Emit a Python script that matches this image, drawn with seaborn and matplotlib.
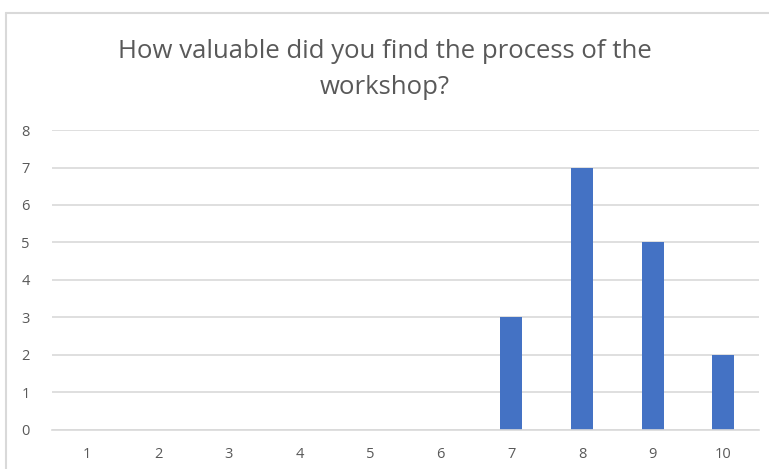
import matplotlib
matplotlib.use("Agg")
import matplotlib.pyplot as plt
import seaborn as sns
import pandas as pd
from matplotlib.lines import Line2D

# Datos del gráfico
ratings = ["1", "2", "3", "4", "5", "6", "7", "8", "9", "10"]
counts = [0, 0, 0, 0, 0, 0, 3, 7, 5, 2]
y_ticks = [0, 1, 2, 3, 4, 5, 6, 7, 8]
title = "How valuable did you find the process of the\nworkshop?"

df = pd.DataFrame({"rating": ratings, "count": counts})

sns.set_style("white")
plt.rcParams["font.family"] = ["Open Sans", "DejaVu Sans"]

fig = plt.figure(figsize=(7.69, 4.69), dpi=100)
ax = fig.add_axes([0.0676, 0.0832, 0.919, 0.6396])

sns.barplot(data=df, x="rating", y="count", color="#4472C4",
            width=0.31, saturation=1, linewidth=0, ax=ax)

ax.set_ylim(0, 8)
ax.set_xlim(-0.5, 9.5)
ax.set_yticks(y_ticks)
ax.yaxis.grid(True, color="#D9D9D9", linewidth=1.2)
ax.set_axisbelow(True)
for side in ["top", "right", "left"]:
    ax.spines[side].set_visible(False)
ax.spines["bottom"].set_color("#D9D9D9")
ax.spines["bottom"].set_linewidth(1.2)
ax.tick_params(axis="both", length=0, labelsize=10.5, colors="#595959")
ax.tick_params(axis="y", pad=16)
ax.tick_params(axis="x", pad=12)
ax.set_xlabel("")
ax.set_ylabel("")

fig.text(0.5, 0.852, title, ha="center", va="center", fontsize=18.5,
         color="#595959", linespacing=1.6)

# Borde del gráfico (solo visible arriba y a la izquierda)
fig.add_artist(Line2D([0.008, 1.0], [0.972, 0.972], transform=fig.transFigure,
                      color="#D9D9D9", linewidth=1.5))
fig.add_artist(Line2D([0.008, 0.008], [0.0, 0.972], transform=fig.transFigure,
                      color="#D9D9D9", linewidth=1.5))

fig.savefig("out.png", dpi=100)
plt.close(fig)
